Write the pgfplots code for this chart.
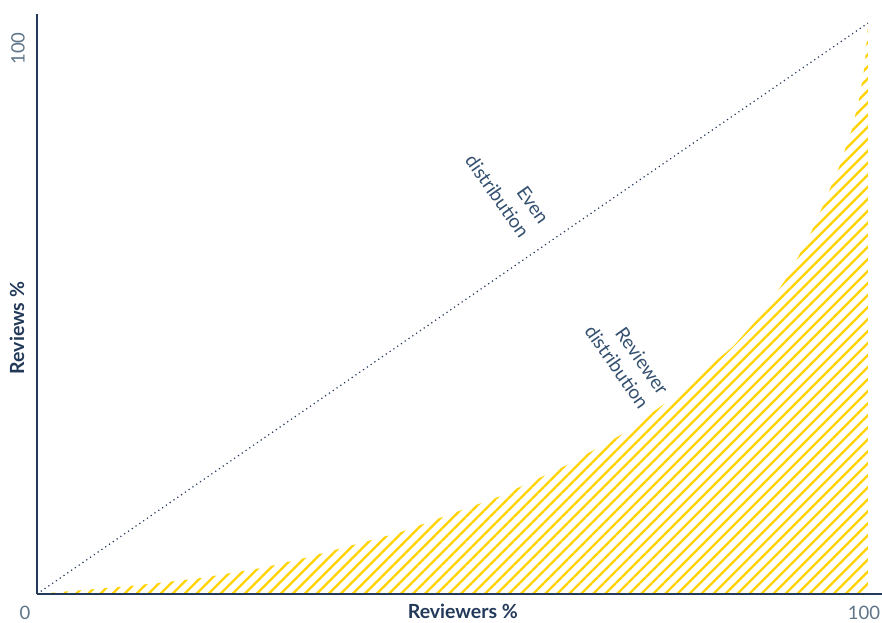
\documentclass[border=0pt]{standalone}
\usepackage{pgfplots}
\pgfplotsset{compat=1.18}
\usetikzlibrary{patterns.meta,calc}
\usepackage{fontspec}
\setmainfont{Lato}
\definecolor{navy}{HTML}{22395A}
\definecolor{ticktxt}{HTML}{5E7489}
\definecolor{annot}{HTML}{34506F}
\definecolor{gold}{HTML}{FFD200}
\begin{document}
\begin{tikzpicture}
\begin{axis}[
  scale only axis,
  width=845pt, height=580pt,
  xmin=0, xmax=101.7, ymin=0, ymax=101.6,
  axis lines*=left,
  axis on top,
  axis line style={draw=navy, line width=2.6pt},
  major tick length=0pt,
  xtick={100}, xticklabels={100},
  extra x ticks={0}, extra x tick labels={0},
  extra x tick style={xticklabel style={xshift=-8pt}},
  ytick={100}, yticklabels={100},
  xticklabel style={inner sep=0pt, anchor=north, yshift=-12pt, xshift=-4pt,
    font=\fontsize{18.5}{20}\selectfont, text=ticktxt},
  yticklabel style={inner sep=0pt, xshift=-12pt, yshift=-9pt, rotate=90, anchor=south east,
    font=\fontsize{18.5}{20}\selectfont, text=ticktxt},
  xlabel={Reviewers \%}, ylabel={Reviews \%},
  xlabel style={at={(axis description cs:0.504,-0.030)}, anchor=center, inner sep=0pt,
    font=\bfseries\fontsize{19.5}{21}\selectfont, text=navy},
  ylabel style={at={(axis description cs:-0.0237,0.4586)}, anchor=center, rotate=0, inner sep=0pt,
    font=\bfseries\fontsize{19.5}{21}\selectfont, text=navy},
  clip=false,
]
\addplot[draw=none, pattern={Lines[angle=45, distance=8.5pt, line width=2.3pt]}, pattern color=gold]
  coordinates {(0,0) (3.1,0.4) (11.2,1.4) (19.3,2.7) (27.2,4.6) (32.5,6.4) (43.7,10.8)
  (55.7,17.1) (63.8,22.6) (70.2,27.8) (75.8,33.6) (83.8,43.4) (87.0,48.6) (90.3,55.5)
  (93.0,62.8) (94.6,68.0) (96.6,75.0) (98.1,81.5) (99.0,87.0) (99.6,92.5) (100,99.3)} \closedcycle;
\addplot[navy, line width=1.2pt, dash pattern=on 1.2pt off 3.4pt]
  coordinates {(0,0) (100,100)};
\node[rotate=-55, align=right, text=annot, font=\fontsize{19}{24}\selectfont]
  at (axis cs:56.6,70.9) {Even\\distribution};
\node[rotate=-55, align=right, text=annot, font=\fontsize{19}{24}\selectfont]
  at (axis cs:71.0,41.0) {Reviewer\\distribution};
\coordinate (O) at (axis cs:0,0);
\end{axis}
\pgfresetboundingbox
\path[use as bounding box] ($(O)+(-37pt,-28pt)$) rectangle ($(O)+(845pt,594pt)$);
\end{tikzpicture}
\end{document}
